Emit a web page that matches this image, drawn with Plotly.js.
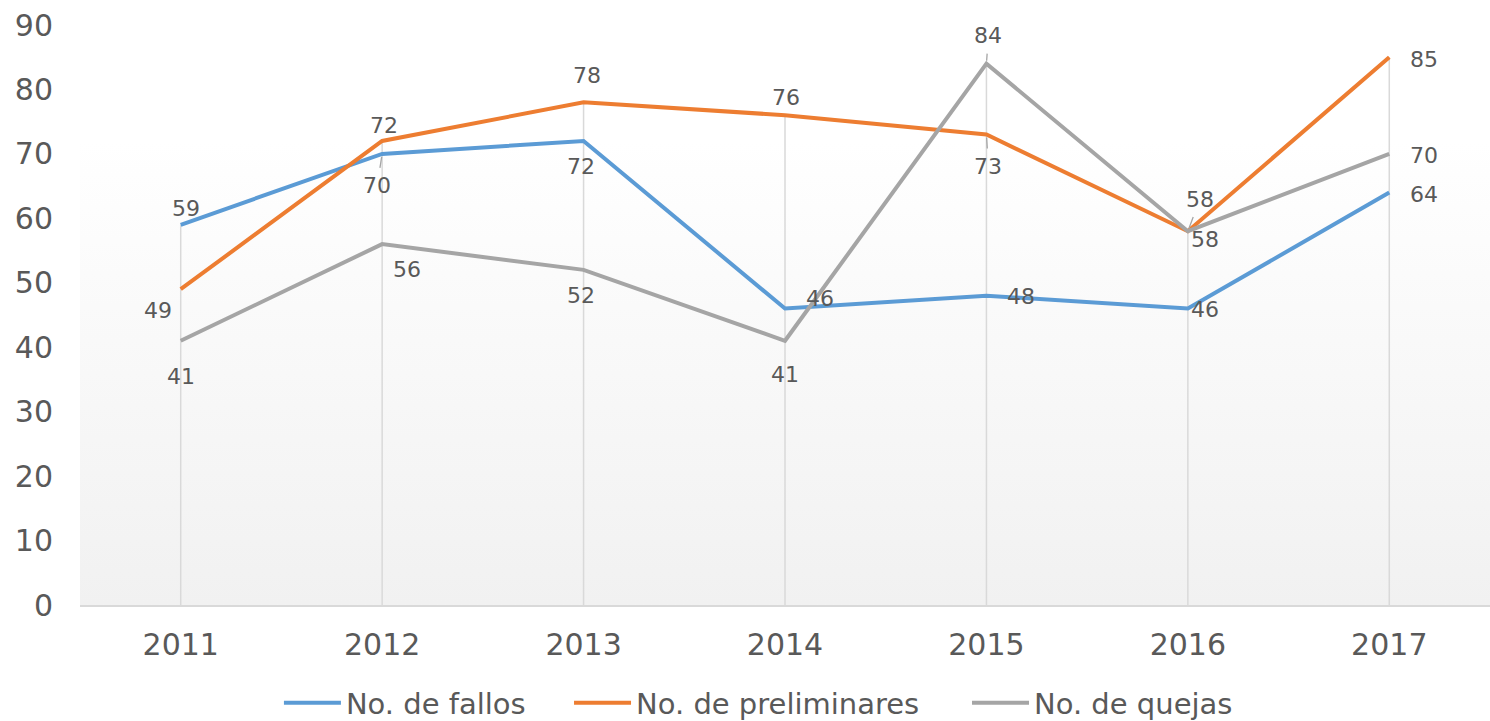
<!DOCTYPE html>
<html>
<head>
<meta charset="utf-8">
<script src="https://cdn.plot.ly/plotly-3.0.1.min.js"></script>
<style>
html,body{margin:0;padding:0;background:#fff;}
#chart{width:1490px;height:721px;}
</style>
</head>
<body>
<div id="chart"></div>
<script>
// ---- data ----
const years = ['2011', '2012', '2013', '2014', '2015', '2016', '2017'];
const fallos = [59, 70, 72, 46, 48, 46, 64];
const preliminares = [49, 72, 78, 76, 73, 58, 85];
const quejas = [41, 56, 52, 41, 84, 58, 70];
const seriesNames = ['No. de fallos', 'No. de preliminares', 'No. de quejas'];
const yTickValues = [0, 10, 20, 30, 40, 50, 60, 70, 80, 90];

// ---- styles ----
const colors = ['#5B9BD5', '#ED7D31', '#A5A5A5'];
const textColor = '#595959';
const font = 'DejaVu Sans, Verdana, sans-serif';
// label placement per point: [dx px, dy px (down), leader line 0/1]
const labelPlacement = [
  [[5,-16,0],[-5,32,1],[-3,25,0],[35,-10,0],[35,1,0],[17,1,0],[35,2,0]],
  [[-23,21,0],[2,-16,0],[3,-27,0],[1,-18,0],[2,32,1],[12,-32,1],[35,2,0]],
  [[0,36,0],[25,25,0],[-3,26,0],[0,34,0],[2,-28,1],[17,8,0],[35,2,0]]
];
// legend entry left positions (container fraction)
const legendX = [0.1872, 0.3819, 0.649];
const legendIds = ['legend', 'legend2', 'legend3'];

const seriesValues = [fallos, preliminares, quejas];

// drop lines from the highest point of each category to the axis
const dropX = [], dropY = [];
years.forEach((yr, i) => {
  const top = Math.max(fallos[i], preliminares[i], quejas[i]);
  dropX.push(yr, yr, null);
  dropY.push(top, 0, null);
});

const traces = [{
  x: dropX, y: dropY, mode: 'lines', type: 'scatter',
  line: {color: '#d9d9d9', width: 1.5},
  hoverinfo: 'skip', showlegend: false
}];
seriesValues.forEach((vals, s) => {
  traces.push({
    x: years, y: vals, name: seriesNames[s], type: 'scatter', mode: 'lines',
    line: {color: colors[s], width: 4}, legend: legendIds[s]
  });
});

const annotations = [];
seriesValues.forEach((vals, s) => {
  vals.forEach((v, i) => {
    const p = labelPlacement[s][i];
    const a = {
      x: i, y: v, xref: 'x', yref: 'y', text: String(v),
      font: {family: font, size: 22, color: textColor}
    };
    if (p[2]) {
      Object.assign(a, {showarrow: true, ax: p[0], ay: p[1], arrowhead: 0,
        arrowwidth: 1.3, arrowcolor: '#a5a5a5', standoff: 3, startstandoff: 4});
    } else {
      Object.assign(a, {showarrow: false, xshift: p[0], yshift: -p[1]});
    }
    annotations.push(a);
  });
});

const gradSvg = "<svg xmlns='http://www.w3.org/2000/svg' width='100' height='100' preserveAspectRatio='none'>" +
  "<defs><linearGradient id='g' x1='0' y1='0' x2='0' y2='1'>" +
  "<stop offset='0' stop-color='#ffffff'/><stop offset='0.2' stop-color='#ffffff'/>" +
  "<stop offset='1' stop-color='#f1f1f1'/></linearGradient></defs>" +
  "<rect width='100' height='100' fill='url(#g)'/></svg>";

function legendStyle(x) {
  return {
    orientation: 'h', x: x, xref: 'container', xanchor: 'left',
    y: 0.025, yref: 'container', yanchor: 'middle',
    font: {family: font, size: 29, color: textColor},
    itemwidth: 57, bgcolor: 'rgba(0,0,0,0)'
  };
}

const layout = {
  width: 1490, height: 721,
  margin: {l: 80, r: 0, t: 25, b: 116},
  paper_bgcolor: '#ffffff',
  plot_bgcolor: 'rgba(0,0,0,0)',
  font: {family: font, color: textColor},
  showlegend: true,
  legend: legendStyle(legendX[0]),
  legend2: legendStyle(legendX[1]),
  legend3: legendStyle(legendX[2]),
  xaxis: {
    type: 'category', range: [-0.5, 6.5], showgrid: false, zeroline: false,
    showline: true, linecolor: '#d9d9d9', linewidth: 1.5, ticks: '',
    tickfont: {family: font, size: 30, color: textColor},
    ticklabelstandoff: 12, fixedrange: true
  },
  yaxis: {
    range: [0, 90], tickmode: 'array', tickvals: yTickValues,
    showgrid: false, zeroline: false, showline: false, ticks: '',
    tickfont: {family: font, size: 30, color: textColor},
    ticklabelstandoff: 26, fixedrange: true
  },
  images: [{
    source: 'data:image/svg+xml;base64,' + btoa(gradSvg),
    xref: 'paper', yref: 'paper', x: 0, y: 1, sizex: 1, sizey: 1,
    xanchor: 'left', yanchor: 'top', sizing: 'stretch', layer: 'below'
  }],
  annotations: annotations
};

Plotly.newPlot('chart', traces, layout, {displayModeBar: false, staticPlot: true});
</script>
</body>
</html>
